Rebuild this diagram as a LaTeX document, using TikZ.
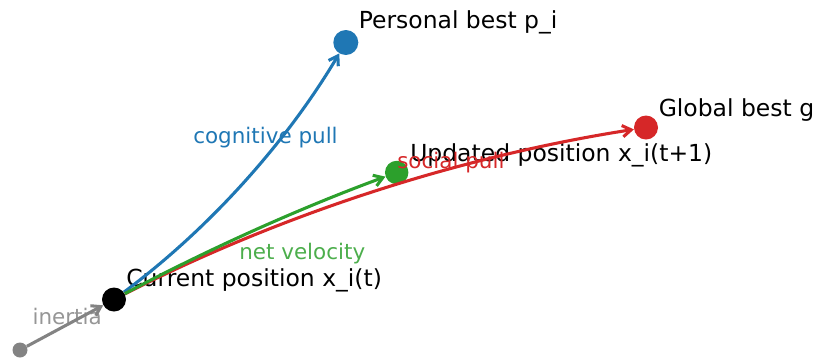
\documentclass[tikz,border=0pt]{standalone}
\usepackage{fontspec}
\setmainfont{DejaVu Sans}
\usetikzlibrary{arrows.meta}
\definecolor{tblue}{HTML}{1F77B4}
\definecolor{tred}{HTML}{D62728}
\definecolor{tgreen}{HTML}{2CA02C}
\definecolor{tgray}{HTML}{838383}
\tikzset{
  dot/.style={circle, fill=#1, inner sep=0pt, draw=none},
  biglabel/.style={anchor=base west, inner sep=0pt, text=black, font=\fontsize{17.6pt}{20pt}\selectfont},
  smalllabel/.style={anchor=base west, inner sep=0pt, text=#1, font=\fontsize{16.1pt}{18pt}\selectfont},
  pull/.style={draw=#1, line width=2.3pt, -{Straight Barb[length=6.5pt,width=8.5pt,line width=2.3pt]}},
}
\begin{document}
\begin{tikzpicture}[x=0.75pt, y=-0.75pt]
\useasboundingbox (0,0) rectangle (819,362);
% points
\node[dot=tgray, minimum size=11.25pt] (st) at (20,350) {};
\node[dot=black, minimum size=18pt] (cur) at (114,299.5) {};
\node[dot=tblue, minimum size=18.75pt] (pb) at (345.8,42.5) {};
\node[dot=tred, minimum size=18pt] (gb) at (646,127.5) {};
\node[dot=tgreen, minimum size=17.6pt] (up) at (396.7,172.5) {};
% labels
\node[biglabel] (lpb) at (358.5,28.3) {Personal best p\_i};
\node[biglabel] (lgb) at (658.5,116.7) {Global best g};
\node[biglabel] (lup) at (410,161) {Updated position x\_i(t+1)};
\node[biglabel] (lcur) at (126,286) {Current position x\_i(t)};
\node[smalllabel=tblue] (lcog) at (193,143.3) {cognitive pull};
\node[smalllabel=tred] (lsoc) at (397,168.3) {social pull};
\node[smalllabel=tgreen!85!white] (lnet) at (239,259.3) {net velocity};
\node[smalllabel=tgray!85!white] (lin) at (32.3,324.3) {inertia};
% control points
\coordinate (b1) at (208.4,229.3);
\coordinate (b2) at (285.7,143.6);
\coordinate (r1) at (282.1,213.8);
\coordinate (r2) at (459.5,156.5);
\coordinate (g1) at (205.3,250.6);
\coordinate (g2) at (299.6,208.2);
% connectors
\draw[pull=tgray] (st) -- (cur);
\draw[pull=tblue] (cur) .. controls (b1) and (b2) .. (pb);
\draw[pull=tred] (cur) .. controls (r1) and (r2) .. (gb);
\draw[pull=tgreen] (cur) .. controls (g1) and (g2) .. (up);
\end{tikzpicture}
\end{document}
